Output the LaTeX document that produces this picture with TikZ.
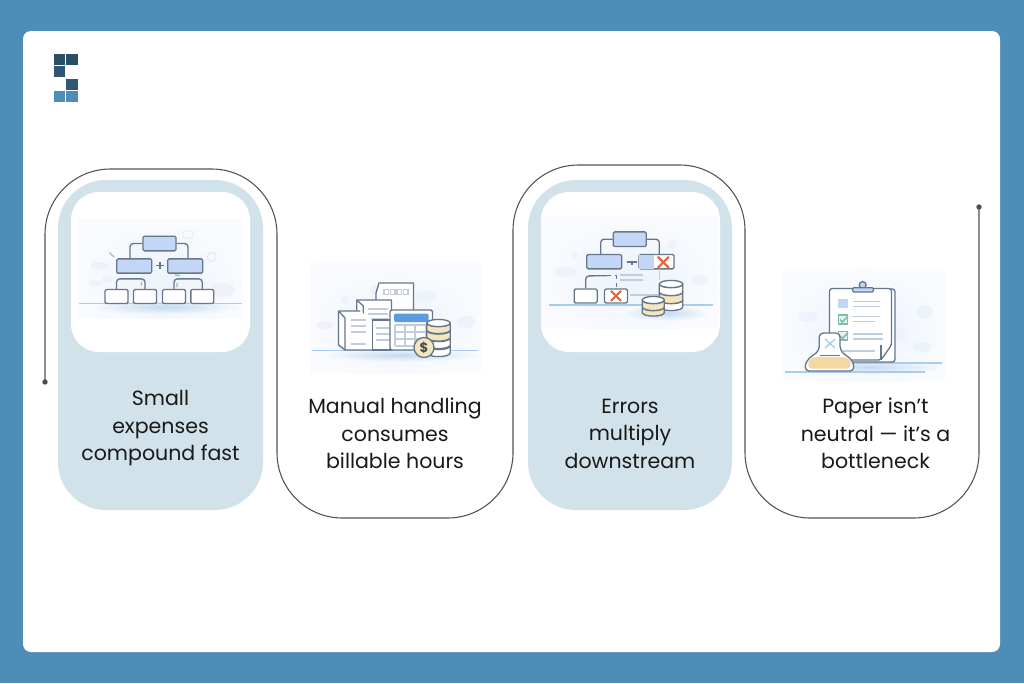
\documentclass[tikz,border=0pt]{standalone}
\usepackage{fontspec}
\setmainfont{Poppins}
\definecolor{pageblue}{HTML}{4D8DB6}
\definecolor{cardblue}{HTML}{D2E2EA}
\definecolor{photobg}{HTML}{F9FBFE}
\definecolor{blobblue}{HTML}{EDF3FA}
\definecolor{boxblue}{HTML}{C3D6F5}
\definecolor{inkgrey}{HTML}{66778C}
\definecolor{palegrey}{HTML}{BFCDDD}
\definecolor{coincream}{HTML}{F3E6BE}
\definecolor{waterblue}{HTML}{A9CBEC}
\definecolor{redcross}{HTML}{E2673F}
\definecolor{tickgreen}{HTML}{7DBFA9}
\definecolor{screenblue}{HTML}{5A9BE1}
\definecolor{tealmark}{HTML}{8CC4CC}
\tikzset{
  photo/.style={fill=photobg,draw=none},
  blob/.style={inner color=blobblue,outer color=photobg,draw=none},
  speck/.style={fill=blobblue,draw=none},
  pool/.style={inner color=waterblue!70,outer color=photobg,draw=none},
  water/.style={draw=waterblue,line width=1.1pt},
  inkline/.style={draw=inkgrey,line width=1pt,line join=round},
  paleline/.style={draw=palegrey,line width=0.8pt},
  treetop/.style={draw=inkgrey,line width=1pt,fill=boxblue,rounded corners=1pt,inner sep=0pt,minimum width=24.7pt,minimum height=11pt},
  treemid/.style={treetop,minimum width=26.2pt,minimum height=10.7pt},
  treeleaf/.style={treetop,fill=white,minimum width=17.2pt,minimum height=10.4pt},
  treelink/.style={inkline,rounded corners=2.5pt},
  cross/.style={draw=redcross,line width=1.6pt},
  cardtext/.style={align=center,inner sep=0pt,font=\fontsize{15.4pt}{20.6pt}\selectfont,text=black!90},
  wire/.style={draw=black!68,line width=0.8pt,rounded corners=49pt}
}
\newcommand{\coinlayer}[5]{% centre x, top y, half width, band height, fill
  \draw[inkline,fill=#5] (#1-#3,#2) -- (#1-#3,#2+#4) arc[x radius=#3,y radius=3.6,start angle=180,end angle=0] -- (#1+#3,#2) arc[x radius=#3,y radius=3.6,start angle=0,end angle=180] -- cycle;
}
\begin{document}
\begin{tikzpicture}[x=0.75pt,y=0.75pt,yscale=-1,xscale=1]
  \useasboundingbox (0,0) rectangle (1024,683);
  % Page and sheet
  \fill[pageblue] (0,0) rectangle (1024,683);
  \fill[white,rounded corners=6pt] (23,31) rectangle (1000,652);

  % Logo
  \fill[color=pageblue!55!black] (53.5,53.5) rectangle (65,65);
  \fill[color=pageblue!55!black] (66,53.5) rectangle (77.5,65);
  \fill[color=pageblue!62!black] (53.5,66) rectangle (65,77);
  \fill[color=pageblue!62!black] (66,78.5) rectangle (77.5,90);
  \fill[color=pageblue] (53.5,91) rectangle (65,102);
  \fill[color=pageblue] (66,91) rectangle (77.5,102);

  % Tinted cards
  \fill[cardblue,rounded corners=36pt] (58,180) rectangle (263,510);
  \fill[white,rounded corners=21pt] (71,192) rectangle (250,352);
  \fill[cardblue,rounded corners=36pt] (528,180) rectangle (732,510);
  \fill[white,rounded corners=21pt] (541,192) rectangle (720,352);

  % Running outline
  \node[circle,fill=black!70,inner sep=0pt,minimum size=4pt] (dotstart) at (45,382) {};
  \node[circle,fill=black!70,inner sep=0pt,minimum size=4pt] (dotend) at (979,207) {};
  \draw[wire] (dotstart.center) -- (45,169) -- (277,169) -- (277,518) -- (513,518) -- (513,165) -- (745,165) -- (745,518) -- (979,518) -- (dotend.center);

  % Picture one: org tree
  \begin{scope}
    \clip (78,218) rectangle (243,318);
    \fill[photo] (78,218) rectangle (243,318);
    \shade[blob] (160,282) ellipse [x radius=84,y radius=62];
    \fill[speck] (95,283) ellipse [x radius=6,y radius=3];
    \fill[speck] (107,279) ellipse [x radius=5,y radius=4];
    \fill[speck] (222,290) ellipse [x radius=13,y radius=7];
    \fill[speck] (100,266) ellipse [x radius=10,y radius=4];
    \shade[pool] (165,307) ellipse [x radius=76,y radius=8];
  \end{scope}
  \draw[palegrey!50,line width=.6pt] (211.7,257) circle [radius=4.5];
  \draw[palegrey!50,line width=.6pt,rounded corners=1pt] (183,231) rectangle (193,238);
  \draw[water] (79,303.5) -- (242,303.5);
  \draw[tealmark,line width=1pt] (109.5,252.5) -- (114,257);
  \draw[tealmark,line width=1pt] (175,275) -- (180,275.5) (141.5,281.5) -- (141.5,285.5) (177,283) -- (177,287);
  \node[treetop] (orgtop) at (159.5,243.5) {};
  \node[treemid] (orgleft) at (134.2,266) {};
  \node[treemid] (orgright) at (185.2,266) {};
  \node[treeleaf] (leafa) at (116.5,296.5) {};
  \node[treeleaf] (leafb) at (145,296.5) {};
  \node[treeleaf] (leafc) at (174,296.5) {};
  \node[treeleaf] (leafd) at (202.3,296.5) {};
  \draw[treelink] (orgtop.west) -| (130,259);
  \draw[treelink] (orgtop.east) -| (188,259);
  \draw[treelink] (leafa.north) -- ++(0,-10) -| (leafb.north);
  \draw[treelink] (leafc.north) -- ++(0,-10) -| (leafd.north);
  \draw[inkline,line width=1.3pt] (156,265.5) -- (163.5,265.5) (159.7,261.8) -- (159.7,269.2);

  % Picture two: papers, calculator, coins
  \begin{scope}
    \clip (310,261) rectangle (481,373);
    \fill[photo] (310,261) rectangle (481,373);
    \shade[blob] (395,325) ellipse [x radius=88,y radius=58];
    \fill[speck] (375,290) circle [radius=5];
    \fill[speck] (425,296) ellipse [x radius=12,y radius=5];
    \fill[speck] (466,322) ellipse [x radius=9,y radius=6];
    \fill[speck] (325,325) ellipse [x radius=8,y radius=4];
    \fill[speck] (345,300) circle [radius=4];
    \shade[pool] (400,355) ellipse [x radius=80,y radius=7];
  \end{scope}
  \draw[water] (312,350.5) -- (478,350.5);
  \draw[inkline,fill=white] (376,293) -- (379,283) -- (413.5,283) -- (413.5,330) -- (376,330) -- cycle;
  \draw[paleline] (384,289.5) rectangle (388.5,294.5) (390.5,289.5) rectangle (395,294.5) (397,289.5) rectangle (401.5,294.5) (403.5,289.5) rectangle (408,294.5);
  \draw[inkline,fill=white] (391.5,300) -- (356.7,300) -- (356.7,311) -- (363.3,334) -- (391.5,334) -- cycle;
  \draw[inkline] (356.7,300) -- (363.3,306) -- (363.3,334);
  \draw[paleline] (368,309) -- (388,309) (368,314) -- (388,314) (368,319) -- (388,319);
  \fill[white] (338.5,311) -- (360,311) -- (372.7,320) -- (372.7,350) -- (345,350) -- (338.5,345) -- cycle;
  \draw[inkline] (360,311) -- (338.5,311) -- (338.5,345) -- (345,350) -- (373,350);
  \draw[inkline] (338.5,311) -- (345,318) -- (345,350);
  \draw[paleline] (351,320) -- (366,320) (351,326) -- (366,326) (351,332) -- (366,332) (351,344) -- (366,344);
  \draw[inkline,fill=white] (372.7,320) -- (392,320) -- (392,350) -- (372.7,350) -- cycle;
  \draw[paleline] (376,328) -- (390,328) (376,334) -- (390,334) (376,340) -- (390,340);
  \draw[inkline,fill=white,rounded corners=1.5pt] (390,310) rectangle (432.5,350);
  \fill[screenblue,rounded corners=1pt] (394,313.5) rectangle (428.5,322);
  \draw[paleline] (395,325) -- (426,325) (395,332) -- (426,332) (395,339) -- (426,339) (395,346) -- (418,346);
  \draw[paleline] (395,325) -- (395,346) (405,325) -- (405,346) (415,325) -- (415,346) (426,325) -- (426,339);
  \coinlayer{438.5}{346}{11.7}{7}{white}
  \coinlayer{438.5}{338}{11.7}{7}{white}
  \coinlayer{438.5}{330.5}{11.7}{7}{coincream}
  \coinlayer{438.5}{323}{11.7}{7}{coincream}
  \draw[inkline,fill=white] (438.5,323) ellipse [x radius=11.7,y radius=3.6];
  \node[circle,draw=inkgrey,line width=1pt,fill=coincream,inner sep=0pt,minimum size=15pt,font=\fontsize{10pt}{10pt}\selectfont\bfseries,text=black!70] (dollarcoin) at (424,347.5) {\$};

  % Picture three: tree with errors
  \begin{scope}
    \clip (541,216) rectangle (719,328);
    \fill[photo] (541,216) rectangle (719,328);
    \shade[blob] (630,278) ellipse [x radius=90,y radius=62];
    \fill[speck] (565,272) ellipse [x radius=11,y radius=5];
    \fill[speck] (700,280) ellipse [x radius=7,y radius=5];
    \fill[speck] (672,245) circle [radius=5];
    \fill[speck] (575,255) circle [radius=3];
    \shade[pool] (665,313) ellipse [x radius=44,y radius=8];
  \end{scope}
  \draw[water] (549,305) -- (713,305);
  \draw[paleline] (620,275) -- (643,275) (620,280) -- (643,280) (630,295) -- (660,295);
  \node[treetop] (errtop) at (629.7,239.2) {};
  \node[treemid] (errleft) at (604.2,261.7) {};
  \node[treemid,fill=white] (errright) at (656.5,261.7) {};
  \fill[boxblue] ([xshift=.6pt,yshift=.6pt]errright.north west) rectangle ([xshift=12pt,yshift=-.6pt]errright.south west);
  \node[treeleaf] (errleafa) at (585.7,296) {};
  \node[treeleaf] (errleafb) at (616,296) {};
  \draw[treelink] (errtop.west) -| (600.7,254.3);
  \draw[treelink] (errtop.east) -| (659.3,254.3);
  \draw[treelink] (errleafa.north) -- ++(0,-12.5) -- (607,275.7);
  \draw[inkline,dashed,line width=.7pt] (607,275.7) -- (616,275.7) -- (errleafb.north);
  \draw[cross] (657.8,256.8) -- (668.8,267.8) (668.8,256.8) -- (657.8,267.8);
  \draw[cross] (611,290.8) -- (621,300.8) (621,290.8) -- (611,300.8);
  \draw[paleline] (659.3,269) -- (659.3,280);
  \draw[inkline,line width=.8pt] (627,262) -- (637,262) (632,262) -- (632,265);
  \coinlayer{671}{300}{11.7}{7}{white}
  \coinlayer{671}{292}{11.7}{8}{coincream}
  \coinlayer{671}{284}{11.7}{8}{white}
  \draw[inkline,fill=white] (671,284) ellipse [x radius=11.7,y radius=3.6];
  \coinlayer{653.3}{307}{11}{5.5}{coincream}
  \coinlayer{653.3}{300}{11}{7}{coincream}
  \draw[inkline,fill=white] (653.3,300) ellipse [x radius=11,y radius=3.6];

  % Picture four: clipboard and flask
  \begin{scope}
    \clip (783,268) rectangle (945,381);
    \fill[photo] (783,268) rectangle (945,381);
    \shade[blob] (864,330) ellipse [x radius=86,y radius=62];
    \fill[speck] (808,317) ellipse [x radius=10,y radius=5];
    \fill[speck] (925,312) ellipse [x radius=8,y radius=7];
    \fill[speck] (922,347) ellipse [x radius=9,y radius=5];
    \fill[speck] (900,335) ellipse [x radius=6,y radius=8];
    \shade[pool] (870,367) ellipse [x radius=75,y radius=7];
  \end{scope}
  \draw[water] (842,363) -- (942,363);
  \draw[water] (785,372) -- (925,372);
  \draw[inkline,fill=white,rounded corners=2pt] (833,289) -- (895,289) -- (895,362) -- (833,362) -- cycle;
  \draw[inkline,fill=white,rounded corners=2pt] (829.5,288.5) -- (891.5,288.5) -- (891.5,345) -- (881,360) -- (829.5,360) -- cycle;
  \draw[inkline] (881,345) -- (881,360);
  \draw[inkline,fill=boxblue] (862.7,285) circle [radius=3.4];
  \draw[inkline,fill=boxblue,rounded corners=1pt] (852.5,287.7) rectangle (873.5,292);
  \fill[boxblue] (838.3,299) rectangle (848.3,308.3);
  \draw[paleline] (853.3,301.7) -- (880,301.7) (853.3,306.7) -- (880,306.7);
  \draw[tickgreen,line width=.9pt,fill=tickgreen!20] (838.3,315) rectangle (847.7,324);
  \draw[tickgreen,line width=1.2pt] (840,319.5) -- (842.5,322) -- (848,316);
  \draw[paleline] (853.3,316.7) -- (880,316.7) (853.3,321.7) -- (875,321.7);
  \draw[tickgreen,line width=.9pt,fill=tickgreen!20] (838.3,331.7) rectangle (847.7,340);
  \draw[tickgreen,line width=1.2pt] (840,336) -- (842.5,338.5) -- (848,332.5);
  \draw[paleline] (853.3,334) -- (883,334) (853.3,339) -- (883,339);
  \draw[paleline] (843,351) -- (875,351);
  \draw[inkline,fill=white,rounded corners=3pt] (819.3,333) -- (840,333) -- (840,350) .. controls (846,356) and (853,358) .. (854,371) -- (805,371) .. controls (806,358) and (813,356) .. (819.3,350) -- cycle;
  \fill[coincream!85!orange,rounded corners=2pt] (813,357) -- (846,357) -- (851,362) -- (850,368.5) -- (809,368.5) -- (808,362) -- cycle;
  \draw[inkline,line width=.7pt] (820,355.5) -- (840,355.5);
  \draw[waterblue,line width=1pt] (825,339) -- (835,348) (835,339) -- (825,348);

  % Text Node
  \node[cardtext] (capone) at (160.5,428.5) {Small\\expenses\\compound fast};
  \node[cardtext] (captwo) at (395,433.5) {Manual handling\\consumes\\billable hours};
  \node[cardtext] (capthree) at (630,433.5) {Errors\\multiply\\downstream};
  \node[cardtext] (capfour) at (875.5,433.5) {Paper isn’t\\neutral — it’s a\\bottleneck};
\end{tikzpicture}
\end{document}
